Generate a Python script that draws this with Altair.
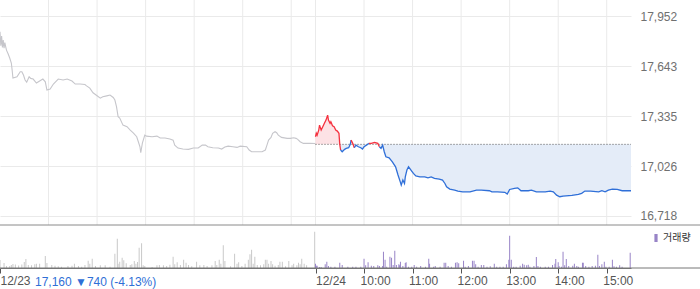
import altair as alt
import pandas as pd

# ---------------- data ----------------
PREV_CLOSE = 17160
INFO_TEXT = "17,160 \u25bc740 (-4.13%)"
LEGEND_LABEL = "거래량"
PRICE_TICKS = [16718, 17026, 17335, 17643, 17952]
PRICE_TOP = 18053          # price at the top edge of the chart
PRICE_PANEL_BOTTOM = 16661  # price at the bottom edge of the price panel
SESSION_MIN = 390  # minutes per session (09:00-15:30)

# x ticks (minutes from 12/23 09:00 on a two-session axis)
X_TICK_VALUES = [0, 390, 450, 510, 570, 630, 690, 750]
X_TICK_LABELS = ["12/23", "12/24", "10:00", "11:00", "12:00", "13:00", "14:00", "15:00"]
GRID_VALUES = [60, 120, 180, 240, 300, 360, 390, 450, 510, 570, 630, 690, 750]

# 12/23 price (minutes since 09:00)
d1_min = [0, 1, 2, 3, 4, 5, 6, 7, 8, 10,
          12, 14, 15, 16, 21, 25, 27, 29, 31, 33,
          36, 38, 41, 45, 49, 53, 56, 58, 62, 66,
          72, 78, 83, 89, 93, 99, 105, 107, 111, 115,
          120, 124, 127, 132, 136, 140, 142, 144, 146, 148,
          152, 157, 161, 165, 169, 171, 173, 174, 176, 179,
          181, 188, 194, 198, 204, 210, 214, 216, 220, 226,
          233, 239, 245, 250, 254, 257, 263, 270, 274, 278,
          282, 288, 293, 297, 305, 308, 311, 318, 324, 328,
          330, 332, 335, 337, 340, 342, 344, 348, 355, 359,
          363, 366, 368, 371, 375, 383, 390]
d1_price = [17857, 17770, 17830, 17760, 17805, 17755, 17790, 17765, 17743, 17720,
            17694, 17663, 17620, 17570, 17578, 17609, 17609, 17589, 17558, 17545,
            17578, 17568, 17564, 17539, 17552, 17564, 17547, 17496, 17502, 17533,
            17564, 17558, 17564, 17552, 17533, 17533, 17530, 17522, 17508, 17479,
            17461, 17446, 17454, 17460, 17465, 17450, 17434, 17393, 17331, 17323,
            17279, 17269, 17248, 17230, 17207, 17176, 17145, 17108, 17168, 17217,
            17211, 17207, 17211, 17199, 17199, 17193, 17186, 17155, 17137, 17131,
            17129, 17137, 17137, 17155, 17155, 17145, 17139, 17137, 17131, 17143,
            17149, 17145, 17141, 17149, 17145, 17125, 17114, 17114, 17114, 17125,
            17155, 17186, 17203, 17228, 17238, 17232, 17217, 17203, 17197, 17197,
            17201, 17197, 17191, 17176, 17166, 17166, 17165]

# 12/24 price (minutes since 09:00)
d2_min = [0, 1, 2, 4, 5, 7, 9, 11, 13, 15,
          16, 18, 19, 21, 23, 25, 27, 29, 30, 31,
          33, 36, 38, 41, 43, 44, 46, 48, 50, 53,
          56, 58, 60, 63, 66, 69, 73, 77, 79, 81,
          83, 85, 87, 91, 95, 99, 102, 105, 106, 108,
          110, 111, 113, 115, 118, 121, 124, 129, 135, 139,
          143, 147, 153, 157, 160, 162, 166, 172, 176, 182,
          191, 199, 205, 215, 218, 225, 234, 237, 240, 246,
          250, 254, 263, 267, 273, 284, 290, 294, 298, 302,
          306, 317, 325, 329, 333, 340, 350, 354, 358, 362,
          367, 373, 379, 390]
d2_price = [17207, 17228, 17217, 17248, 17279, 17248, 17269, 17290, 17310, 17341,
            17310, 17290, 17300, 17275, 17269, 17248, 17242, 17228, 17160, 17125,
            17114, 17129, 17135, 17139, 17160, 17186, 17166, 17139, 17155, 17145,
            17139, 17131, 17145, 17155, 17166, 17166, 17172, 17166, 17145, 17135,
            17155, 17114, 17083, 17077, 17052, 17021, 16970, 16925, 16908, 16939,
            16918, 16959, 17001, 17021, 17001, 16980, 16965, 16959, 16959, 16953,
            16959, 16949, 16945, 16939, 16918, 16897, 16883, 16877, 16871, 16866,
            16866, 16877, 16877, 16873, 16866, 16866, 16863, 16852, 16881, 16888,
            16891, 16873, 16873, 16877, 16866, 16866, 16871, 16866, 16846, 16836,
            16840, 16844, 16850, 16857, 16871, 16871, 16866, 16873, 16866, 16877,
            16883, 16881, 16873, 16873]

# 12/23 volume
v1_min = [0, 5, 8, 12, 14, 16, 19, 23, 27, 30,
          32, 35, 39, 43, 45, 49, 56, 58, 64, 68,
          72, 76, 84, 89, 92, 97, 101, 105, 109, 111,
          114, 118, 124, 130, 136, 142, 145, 146, 148, 151,
          153, 156, 161, 163, 166, 168, 170, 172, 175, 177,
          179, 188, 194, 197, 202, 206, 210, 214, 216, 219,
          223, 227, 230, 233, 237, 243, 247, 252, 256, 262,
          266, 268, 271, 273, 276, 278, 285, 290, 293, 295,
          299, 303, 307, 309, 311, 313, 315, 318, 322, 326,
          328, 330, 332, 335, 337, 340, 344, 346, 349, 353,
          357, 361, 363, 367, 369, 371, 373, 376, 379, 389]
v1_vol = [80, 50, 20, 20, 30, 40, 35, 25, 35, 60,
          90, 30, 27, 37, 43, 43, 120, 50, 30, 23,
          17, 13, 20, 23, 43, 20, 13, 30, 73, 43,
          93, 20, 27, 27, 13, 143, 293, 43, 63, 103,
          77, 47, 30, 37, 70, 43, 60, 203, 247, 27,
          20, 10, 27, 30, 27, 20, 33, 113, 37, 57,
          30, 83, 53, 30, 17, 63, 27, 30, 20, 27,
          70, 30, 83, 43, 227, 70, 17, 143, 43, 57,
          20, 43, 83, 137, 183, 43, 113, 30, 27, 37,
          83, 83, 43, 70, 37, 23, 30, 63, 63, 17,
          70, 27, 43, 27, 53, 37, 93, 43, 27, 363]

# 12/24 volume
v2_min = [0, 1, 2, 5, 7, 12, 14, 16, 19, 24,
          30, 33, 40, 46, 50, 56, 60, 62, 65, 69,
          72, 77, 79, 83, 84, 86, 88, 92, 94, 96,
          98, 100, 103, 104, 105, 108, 111, 112, 115, 119,
          122, 125, 130, 136, 140, 141, 146, 148, 154, 159,
          161, 164, 168, 173, 175, 177, 183, 185, 189, 194,
          196, 198, 201, 205, 208, 212, 216, 221, 224, 228,
          232, 236, 239, 240, 242, 245, 248, 253, 256, 258,
          261, 263, 265, 270, 273, 275, 278, 284, 288, 293,
          296, 297, 300, 301, 304, 306, 308, 310, 313, 318,
          320, 323, 325, 330, 331, 334, 338, 342, 346, 349,
          351, 354, 357, 359, 363, 367, 369, 372, 376, 379,
          389]
v2_vol = [43, 23, 23, 10, 10, 37, 63, 20, 13, 13,
          53, 30, 13, 13, 13, 13, 93, 27, 57, 23,
          20, 27, 20, 20, 163, 83, 13, 113, 103, 30,
          173, 30, 37, 27, 63, 20, 50, 57, 13, 13,
          30, 13, 20, 13, 93, 43, 13, 20, 13, 53,
          53, 20, 13, 53, 57, 47, 73, 13, 20, 73,
          73, 37, 13, 30, 30, 13, 17, 43, 13, 13,
          13, 37, 83, 323, 83, 13, 13, 23, 43, 33,
          27, 33, 13, 20, 110, 20, 13, 13, 13, 30,
          43, 90, 57, 20, 13, 163, 27, 90, 20, 23,
          43, 20, 13, 53, 53, 20, 13, 20, 23, 133,
          20, 37, 63, 13, 13, 83, 17, 13, 27, 13,
          153]

# ---------------- styling / layout ----------------
GRAY_LINE = "#c6c6cb"
RED = "#f5313f"
BLUE = "#2f6fd8"
RED_FILL = "#fde2e5"
BLUE_FILL = "#e4ecf8"
VOL_GRAY = "#c9c9c9"
PURPLE = "#9884c7"
GRID = "#eaeaea"
FONT = "Liberation Sans"

W = 631        # plot width
PH = 225       # price panel height
VH = 43        # volume panel height
H = PH + VH    # total plot height
PX_PER_PRICE = PH / (PRICE_TOP - PRICE_PANEL_BOTTOM)
PRICE_DOMAIN = [PRICE_TOP - H / PX_PER_PRICE, PRICE_TOP]
VOL_PER_PX = 10
VOL_DOMAIN = [0, H * VOL_PER_PX]

# ---------------- frames ----------------
df1 = pd.DataFrame({"x": d1_min, "price": d1_price})

df2 = pd.DataFrame({"x": [SESSION_MIN + m for m in d2_min], "price": d2_price})
df2["hi"] = df2["price"].clip(lower=PREV_CLOSE)
df2["lo"] = df2["price"].clip(upper=PREV_CLOSE)

# split 12/24 line into up/down coloured runs (each run ends on the next run's first point)
rows = []
seg = 0
cur = None
pts = list(zip(df2["x"], df2["price"]))
dirs = []
for _, p in pts:
    if p > PREV_CLOSE:
        d = "up"
    elif p < PREV_CLOSE:
        d = "down"
    else:
        d = cur if cur else "up"
    dirs.append(d)
    cur = d
for i, (x, p) in enumerate(pts):
    if i > 0 and dirs[i] != dirs[i - 1]:
        rows.append({"x": x, "price": p, "dir": dirs[i - 1], "seg": seg})
        seg += 1
    rows.append({"x": x, "price": p, "dir": dirs[i], "seg": seg})
seg_df = pd.DataFrame(rows)

base_df = pd.DataFrame({"x": [SESSION_MIN], "x2": [2 * SESSION_MIN], "price": [PREV_CLOSE]})
grid_df = pd.DataFrame({"x": GRID_VALUES, "top": PRICE_TOP, "bottom": PRICE_PANEL_BOTTOM})

vol1 = pd.DataFrame({"x": v1_min, "vol": v1_vol})
vol2 = pd.DataFrame({"x": [SESSION_MIN + m for m in v2_min], "vol": v2_vol, "label": LEGEND_LABEL})
info_df = pd.DataFrame({"t": [INFO_TEXT]})

x_scale = alt.Scale(domain=[0, 2 * SESSION_MIN], nice=False, zero=False, padding=0)
y_scale = alt.Scale(domain=PRICE_DOMAIN, nice=False, zero=False, padding=0)
vol_y = alt.Scale(domain=VOL_DOMAIN, nice=False, zero=True, padding=0)

label_expr = " : ".join(
    f"datum.value == {v} ? '{t}'" for v, t in zip(X_TICK_VALUES, X_TICK_LABELS)
) + " : ''"

x_axis = alt.Axis(values=X_TICK_VALUES, labelExpr=label_expr, grid=False, title=None,
                  domain=True, domainColor="#777777", ticks=True, tickColor="#555555",
                  tickSize=5, labelFont=FONT, labelFontSize=12, labelColor="#555555",
                  labelAlign="left", labelPadding=2, labelOverlap=False, labelFlush=False,
                  labelOffset={"condition": {"test": "datum.value <= 390", "value": 0}, "value": -4})
price_y_axis = alt.Axis(orient="right", values=PRICE_TICKS, format=",d", grid=True,
                        gridColor=GRID, ticks=False, domain=False, title=None,
                        labelFont=FONT, labelFontSize=12, labelColor="#707070",
                        labelPadding=9)

# ---------------- price layers ----------------
vgrid = alt.Chart(grid_df).mark_rule(color=GRID, strokeWidth=1).encode(
    x=alt.X("x:Q", scale=x_scale, axis=x_axis),
    y=alt.Y("top:Q", scale=y_scale, axis=price_y_axis),
    y2="bottom:Q",
)

gray_line = alt.Chart(df1).mark_line(color=GRAY_LINE, strokeWidth=1.1).encode(
    x=alt.X("x:Q", scale=x_scale),
    y=alt.Y("price:Q", scale=y_scale),
)

red_area = alt.Chart(df2).mark_area(color=RED_FILL, opacity=1).encode(
    x=alt.X("x:Q", scale=x_scale),
    y=alt.Y("hi:Q", scale=y_scale),
    y2=alt.datum(PREV_CLOSE),
)
blue_area = alt.Chart(df2).mark_area(color=BLUE_FILL, opacity=1).encode(
    x=alt.X("x:Q", scale=x_scale),
    y=alt.Y("lo:Q", scale=y_scale),
    y2=alt.datum(PREV_CLOSE),
)

base_rule = alt.Chart(base_df).mark_rule(color="#555555", strokeDash=[1, 2], strokeWidth=1).encode(
    x=alt.X("x:Q", scale=x_scale),
    x2="x2:Q",
    y=alt.Y("price:Q", scale=y_scale),
)

today_line = alt.Chart(seg_df).mark_line(strokeWidth=1.3).encode(
    x=alt.X("x:Q", scale=x_scale),
    y=alt.Y("price:Q", scale=y_scale),
    color=alt.Color("dir:N", scale=alt.Scale(domain=["up", "down"], range=[RED, BLUE]), legend=None),
    detail="seg:N",
    order="x:Q",
)

price_layer = alt.layer(vgrid, gray_line, red_area, blue_area, base_rule, today_line)

# ---------------- volume layers ----------------
vol_gray = alt.Chart(vol1).mark_bar(size=1, color=VOL_GRAY).encode(
    x=alt.X("x:Q", scale=x_scale),
    y=alt.Y("vol:Q", scale=vol_y, axis=None),
)
vol_purple = alt.Chart(vol2).mark_bar(size=1).encode(
    x=alt.X("x:Q", scale=x_scale),
    y=alt.Y("vol:Q", scale=vol_y, axis=None),
    color=alt.Color("label:N", scale=alt.Scale(domain=[LEGEND_LABEL], range=[PURPLE]),
                    legend=alt.Legend(title=None, orient="none", legendX=651, legendY=PH + 8,
                                      symbolType="M-0.4,-1L0.4,-1L0.4,1L-0.4,1Z",
                                      symbolSize=64, symbolStrokeWidth=0,
                                      labelFont="Noto Sans CJK KR", labelFontSize=10,
                                      labelColor="#333333", labelOffset=2, padding=0)),
)
vol_layer = alt.layer(vol_gray, vol_purple)

# ---------------- frame lines and info text ----------------
border = alt.Chart(info_df).mark_rule(color="#8a8a8a", strokeWidth=1).encode(
    x=alt.value(0), x2=alt.value(700), y=alt.value(PH)
)
vol_base = alt.Chart(info_df).mark_rule(color="#777777", strokeWidth=1).encode(
    x=alt.value(0), x2=alt.value(700), y=alt.value(H)
)
info = alt.Chart(info_df).mark_text(align="left", baseline="middle", font=FONT, fontSize=12,
                                    color="#2f6fd6").encode(
    text="t:N", x=alt.value(35), y=alt.value(H + 14)
)

chart = (
    alt.layer(price_layer, vol_layer, border, vol_base, info)
    .resolve_scale(y="independent", color="independent")
    .resolve_legend(color="independent")
    .properties(
        width=W, height=H,
        autosize=alt.AutoSizeParams(type="none"),
        padding={"left": 0, "top": 0, "right": 700 - W, "bottom": 289 - H},
    )
    .configure(background="white")
    .configure_view(stroke="transparent", strokeWidth=0)
)

chart.save("out.html", embed_options={"renderer": "svg", "actions": False})
